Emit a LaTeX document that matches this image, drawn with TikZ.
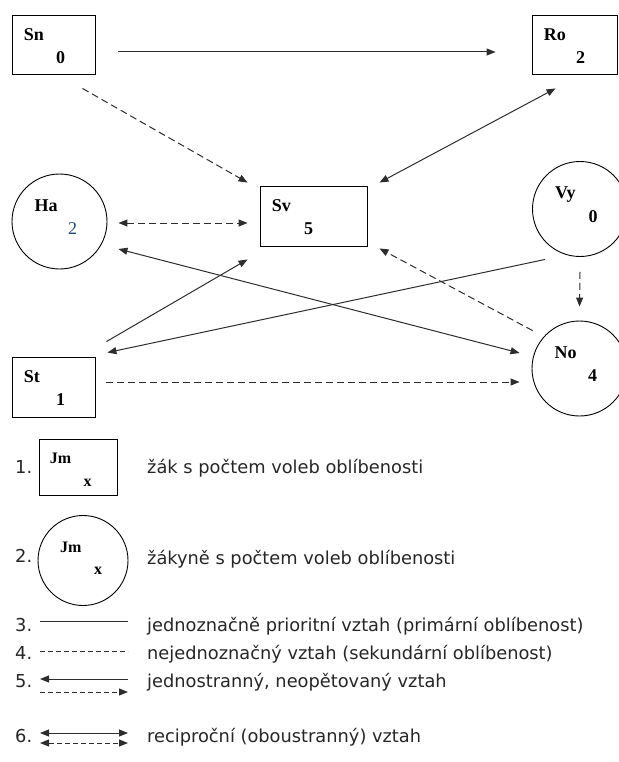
\documentclass[tikz,border=0pt]{standalone}
\usepackage{fontspec}
\setmainfont{Liberation Serif}
\newfontfamily\legfont{DejaVu Sans}
\usetikzlibrary{arrows.meta,calc}
\definecolor{hablue}{RGB}{31,73,125}
\definecolor{ln}{RGB}{45,45,45}

\begin{document}
\begin{tikzpicture}[x=1pt, y=-1pt, >={Triangle[length=9pt,width=7pt]},
  nm/.style={font=\fontsize{18}{18}\selectfont\bfseries, inner sep=0pt, text height=12pt, text depth=0pt},
  boy/.style={draw, line width=0.9pt, rectangle, minimum width=83pt, minimum height=59pt, inner sep=0pt},
  girl/.style={draw, line width=0.9pt, circle, minimum size=95pt, inner sep=0pt},
  pri/.style={line width=1pt, draw=ln},
  sec/.style={line width=1pt, draw=ln, dash pattern=on 7pt off 4pt},
  leg/.style={font=\legfont\fontsize{17.8}{18}\selectfont, text=black!85, anchor=west, inner sep=0pt, text height=12pt, text depth=3pt}]
\useasboundingbox (0,0) rectangle (618,762);
% zaci
\node[boy] (sn) at (53.5,44.5) {};
\node[boy, minimum width=85pt] (ro) at (574.5,44.5) {};
\node[boy, minimum width=107pt, minimum height=60pt] (sv) at (313.5,216) {};
\node[boy, minimum height=60pt] (st) at (53.5,387) {};
\foreach \p/\n/\c in {sn/Sn/0, ro/Ro/2, sv/Sv/5, st/St/1} {
  \node[nm, anchor=west] (\p-n) at ($(\p.north west)+(12,20)$) {\n};
  \node[nm] (\p-c) at ($(\p.north west)+(49,43)$) {\c};
}
% zakyne
\node[girl] (ha) at (59.5,221.5) {};
\node[girl] (vy) at (580,209) {};
\node[girl] (no) at (579.5,368.5) {};
\foreach \p/\n/\c in {ha/Ha/{\mdseries\color{hablue}2}, vy/Vy/0, no/No/4} {
  \node[nm, anchor=west] (\p-n) at ($(\p.center)+(-25,-16.5)$) {\n};
  \node[nm] (\p-c) at ($(\p.center)+(13,7)$) {\c};
}
% vztahy
\draw[pri,->] ($(sn.east)+(23,7.5)$) -- ($(ro.west)+(-36,7.5)$);
\draw[sec,->] ($(sn.south east)+(-13,14)$) -- ($(sv.north west)+(-12,-3)$);
\draw[pri,<->] ($(ro.south west)+(24,14)$) -- ($(sv.north east)+(12,-3)$);
\draw[sec,<->] ($(ha.east)+(11,1.5)$) -- ($(sv.west)+(-12,7)$);
\draw[pri,<->] ($(ha.east)+(11,27.5)$) -- ($(no.west)+(-12,-15.5)$);
\draw[pri,->] ($(st.north east)+(11,-15)$) -- ($(sv.south west)+(-12,13)$);
\draw[pri,->] ($(vy.south)+(-35,2.5)$) -- ($(st.north east)+(12,-4)$);
\draw[sec,->] ($(no.north west)+(-13,-4)$) -- ($(sv.south east)+(12,2)$);
\draw[sec,->] ($(vy.south)+(0,15)$) -- ($(no.north)+(0,-14)$);
\draw[sec,->] ($(st.east)+(11,-5)$) -- ($(no.west)+(-12,13.5)$);
% legenda
\node[boy, minimum width=78pt, minimum height=56pt] (lbox) at (78,467) {};
\node[nm, anchor=west, font=\fontsize{16}{16}\selectfont\bfseries] (lbox-n) at ($(lbox.north west)+(11,19)$) {Jm};
\node[nm, font=\fontsize{16}{16}\selectfont\bfseries] (lbox-c) at ($(lbox.north west)+(49,42)$) {x};
\node[girl, minimum size=90pt] (lcirc) at (83,560.5) {};
\node[nm, anchor=west, font=\fontsize{16}{16}\selectfont\bfseries] (lcirc-n) at ($(lcirc.center)+(-23,-14.5)$) {Jm};
\node[nm, font=\fontsize{16}{16}\selectfont\bfseries] (lcirc-c) at ($(lcirc.center)+(15,7.5)$) {x};
\node[leg] (n1) at (15,469) {1.};
\node[leg] (t1) at (147,469) {žák s počtem voleb oblíbenosti};
\node[leg] (n2) at (15,558) {2.};
\node[leg] (t2) at (147,560) {žákyně s počtem voleb oblíbenosti};
\node[leg] (n3) at (15,627) {3.};
\node[leg] (t3) at (147,627) {jednoznačně prioritní vztah (primární oblíbenost)};
\node[leg] (n4) at (15,655) {4.};
\node[leg] (t4) at (147,655) {nejednoznačný vztah (sekundární oblíbenost)};
\node[leg] (n5) at (15,683) {5.};
\node[leg] (t5) at (147,683) {jednostranný, neopětovaný vztah};
\node[leg] (n6) at (15,738) {6.};
\node[leg] (t6) at (147,738) {reciproční (oboustranný) vztah};
\coordinate (l3a) at (40,621); \coordinate (l3b) at (128,621);
\coordinate (l4a) at (40,651); \coordinate (l4b) at (128,651);
\coordinate (l5a) at (40,679); \coordinate (l5b) at (128,679);
\coordinate (l5c) at (40,692); \coordinate (l5d) at (128,692);
\coordinate (l6a) at (40,733); \coordinate (l6b) at (128,733);
\coordinate (l6c) at (40,743); \coordinate (l6d) at (128,743);
\draw[pri, line width=0.8pt] (l3a) -- (l3b);
\draw[sec, line width=0.8pt, dash pattern=on 5pt off 3pt] (l4a) -- (l4b);
\draw[pri,<-] (l5a) -- (l5b);
\draw[sec,->, dash pattern=on 5pt off 3pt] (l5c) -- (l5d);
\draw[pri,<->] (l6a) -- (l6b);
\draw[sec,<->, dash pattern=on 5pt off 3pt] (l6c) -- (l6d);
\end{tikzpicture}
\end{document}
